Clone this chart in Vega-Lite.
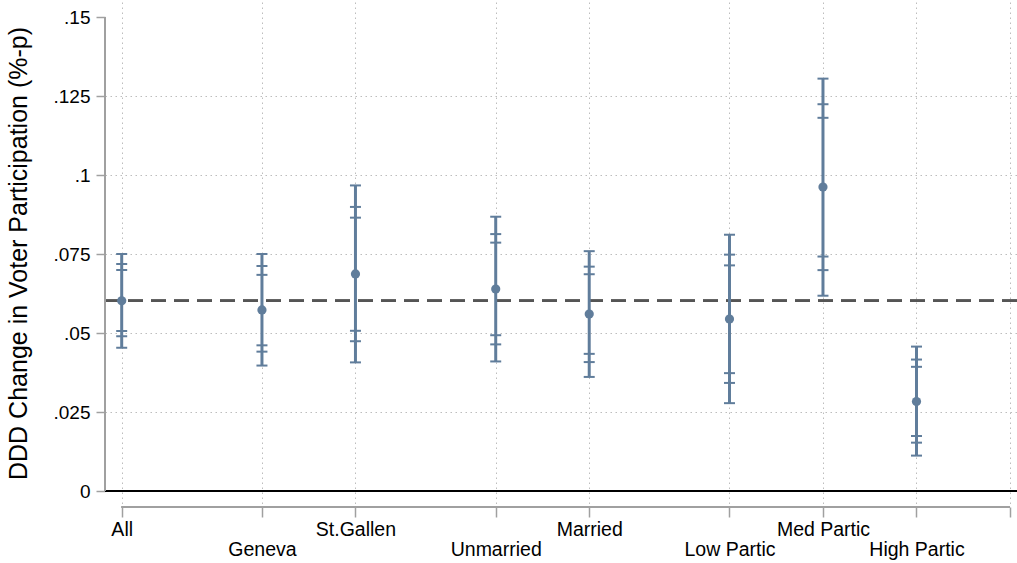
{
  "$schema": "https://vega.github.io/schema/vega-lite/v6.json",
  "width": 912,
  "height": 503,
  "autosize": {"type": "none"},
  "padding": {"left": 105, "top": 2, "right": 0, "bottom": 58},
  "background": "white",
  "config": {"view": {"stroke": null}, "font": "Liberation Sans"},
  "datasets": {
    "est": [
      {"group": "All", "pos": 0, "b": 0.0602, "lo90": 0.0506, "hi90": 0.0699, "lo95": 0.049, "hi95": 0.0718, "lo99": 0.0453, "hi99": 0.075},
      {"group": "Geneva", "pos": 1.5, "b": 0.0573, "lo90": 0.0461, "hi90": 0.0684, "lo95": 0.0441, "hi95": 0.0712, "lo99": 0.0397, "hi99": 0.075},
      {"group": "St.Gallen", "pos": 2.5, "b": 0.0687, "lo90": 0.0507, "hi90": 0.0865, "lo95": 0.0474, "hi95": 0.0899, "lo99": 0.0407, "hi99": 0.0967},
      {"group": "Unmarried", "pos": 4, "b": 0.0639, "lo90": 0.0493, "hi90": 0.0786, "lo95": 0.0464, "hi95": 0.0813, "lo99": 0.041, "hi99": 0.0868},
      {"group": "Married", "pos": 5, "b": 0.056, "lo90": 0.0434, "hi90": 0.0686, "lo95": 0.0408, "hi95": 0.071, "lo99": 0.0361, "hi99": 0.0759},
      {"group": "Low Partic", "pos": 6.5, "b": 0.0544, "lo90": 0.0373, "hi90": 0.0714, "lo95": 0.0342, "hi95": 0.0748, "lo99": 0.0278, "hi99": 0.0811},
      {"group": "Med Partic", "pos": 7.5, "b": 0.0962, "lo90": 0.0742, "hi90": 0.1181, "lo95": 0.0699, "hi95": 0.1224, "lo99": 0.0618, "hi99": 0.1305},
      {"group": "High Partic", "pos": 8.5, "b": 0.0283, "lo90": 0.0174, "hi90": 0.0393, "lo95": 0.0153, "hi95": 0.0416, "lo99": 0.0112, "hi99": 0.0457}
    ]
  },
  "data": {"name": "est"},
  "layer": [
    {
      "mark": {"type": "rule", "color": "black", "strokeWidth": 2},
      "encoding": {"y": {"datum": 0, "type": "quantitative"}}
    },
    {
      "mark": {"type": "rule", "color": "#555555", "strokeWidth": 1.8, "strokeDash": [15, 8]},
      "encoding": {"y": {"datum": 0.0602, "type": "quantitative"}}
    },
    {
      "mark": {"type": "rule", "color": "#607d9b", "strokeWidth": 3},
      "encoding": {
        "x": {
          "field": "pos", "type": "quantitative",
          "scale": {"domain": [-0.1786, 9.575], "nice": false, "zero": false},
          "axis": {
            "title": null,
            "values": [0, 1.5, 2.5, 4, 5, 6.5, 7.5, 8.5, 9.5],
            "labelExpr": "datum.value == 0 ? 'All' : datum.value == 1.5 ? 'Geneva' : datum.value == 2.5 ? 'St.Gallen' : datum.value == 4 ? 'Unmarried' : datum.value == 5 ? 'Married' : datum.value == 6.5 ? 'Low Partic' : datum.value == 7.5 ? 'Med Partic' : datum.value == 8.5 ? 'High Partic' : ''",
            "domain": false,
            "offset": 2,
            "tickSize": 10,
            "tickColor": "#a0a0a0",
            "tickWidth": 1.5,
            "labelFontSize": 19.5,
            "labelColor": "black",
            "labelPadding": {"condition": {"test": "indexof([1.5, 4, 6.5, 8.5], datum.value) >= 0", "value": 23}, "value": 3},
            "labelFlush": false,
            "labelOverlap": false,
            "labelBound": false,
            "grid": true,
            "gridColor": "#bdbdbd",
            "gridDash": [1.5, 3.5],
            "gridWidth": 1
          }
        },
        "y": {
          "field": "lo99", "type": "quantitative",
          "scale": {"domain": [-0.00443, 0.15475], "nice": false, "zero": false},
          "axis": {
            "title": "DDD Change in Voter Participation (%-p)",
            "values": [0, 0.025, 0.05, 0.075, 0.1, 0.125, 0.15],
            "labelExpr": "datum.value == 0 ? '0' : replace(format(datum.value, '.3~f'), '0.', '.')",
            "domain": false,
            "tickSize": 9,
            "tickColor": "#a0a0a0",
            "tickWidth": 1.5,
            "labelFontSize": 19,
            "labelColor": "black",
            "labelPadding": 6,
            "grid": true,
            "gridColor": "#bdbdbd",
            "gridDash": [1.5, 3.5],
            "gridWidth": 1,
            "gridOpacity": {"condition": {"test": "datum.value > 0.14 || datum.value == 0", "value": 0}, "value": 1},
            "titleFontSize": 25,
            "titleFontWeight": "normal",
            "titleColor": "black",
            "titleAngle": -90,
            "titleX": -87,
            "titleY": 251,
            "titleAlign": "center",
            "titleBaseline": "middle"
          }
        },
        "y2": {"field": "hi99"}
      }
    },
    {
      "transform": [{"fold": ["lo90", "hi90", "lo95", "hi95", "lo99", "hi99"], "as": ["lev", "v"]}],
      "mark": {"type": "tick", "orient": "horizontal", "color": "#607d9b", "size": 11, "thickness": 2, "opacity": 1},
      "encoding": {
        "x": {"field": "pos", "type": "quantitative"},
        "y": {"field": "v", "type": "quantitative"}
      }
    },
    {
      "mark": {"type": "circle", "color": "#607d9b", "size": 85, "opacity": 1},
      "encoding": {
        "x": {"field": "pos", "type": "quantitative"},
        "y": {"field": "b", "type": "quantitative"}
      }
    },
    {
      "mark": {"type": "rule", "color": "#a0a0a0", "strokeWidth": 1.5},
      "encoding": {
        "x": {"datum": -0.1786, "type": "quantitative"},
        "y": {"datum": 0, "type": "quantitative"},
        "y2": {"datum": 0.15}
      }
    },
    {
      "mark": {"type": "rule", "color": "#a0a0a0", "strokeWidth": 1.5},
      "encoding": {
        "x": {"datum": 0, "type": "quantitative"},
        "x2": {"datum": 9.5},
        "y": {"datum": -0.00506, "type": "quantitative"}
      }
    }
  ]
}
